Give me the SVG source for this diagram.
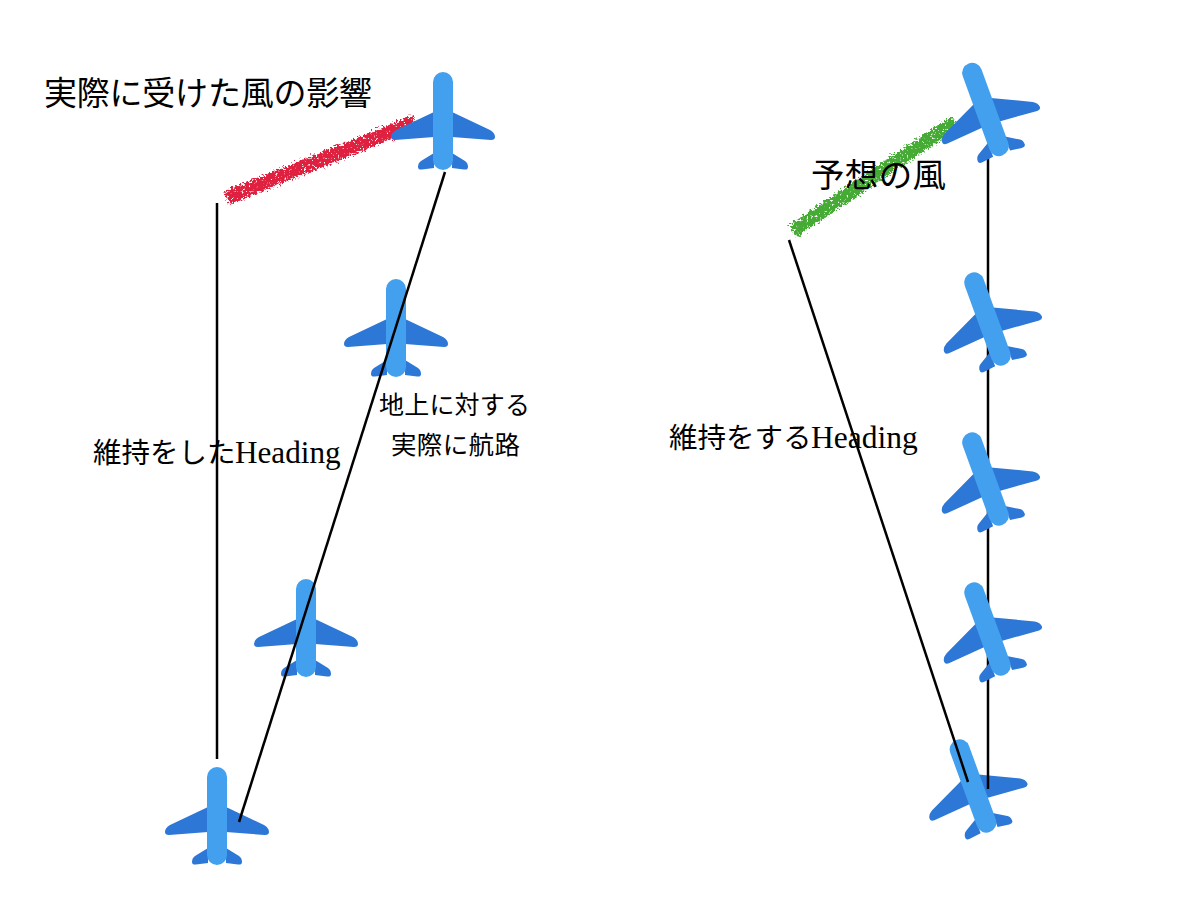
<svg xmlns="http://www.w3.org/2000/svg" xmlns:xlink="http://www.w3.org/1999/xlink" width="1200" height="900" viewBox="0 0 1200 900">
<style>
text{font-family:"Liberation Serif","Noto Sans CJK JP",serif;fill:#000}
.conn{stroke:#000;stroke-width:2.5;fill:none}
.wing{fill:#2d77d6}
.body{fill:#42a0ef}
.crayon{fill:none;stroke-width:14;stroke-linecap:butt;filter:url(#rough)}
</style>
<defs>
<filter id="rough" x="-10%" y="-30%" width="120%" height="160%" color-interpolation-filters="sRGB">
<feTurbulence type="fractalNoise" baseFrequency="0.45" numOctaves="2" seed="4" result="n"/>
<feColorMatrix in="n" type="matrix" values="0 0 0 0 0 0 0 0 0 0 0 0 0 0 0 8 0 0 0 -2" result="holes"/>
<feDisplacementMap in="SourceGraphic" in2="n" scale="10" xChannelSelector="R" yChannelSelector="G" result="d"/>
<feComposite in="d" in2="holes" operator="in"/>
</filter>
<g id="plane">
<path class="wing" d="M-9-9L-47 9Q-52 12-52 16Q-52 19-48 19L-9 16ZM9-9L47 9Q52 12 52 16Q52 19 48 19L9 16ZM-9 32L-22 40Q-25 42-25 46Q-25 49-21 48.500L-9 47ZM9 32L22 40Q25 42 25 46Q25 49 21 48.500L9 47Z"/>
<rect class="body" x="-10" y="-49" width="20" height="98" rx="10"/>
</g>
</defs>
<rect width="1200" height="900" fill="#fff"/>
<g id="wind-strokes">
<path class="crayon" stroke="#e0203f" d="M227 198L415 122"/>
<path class="crayon" stroke="#45ab35" d="M793 231L955 122"/>
</g>
<g id="plane-1"><use xlink:href="#plane" href="#plane" x="443" y="121"/></g>
<g id="plane-2"><use xlink:href="#plane" href="#plane" x="396" y="328"/></g>
<g id="plane-3"><use xlink:href="#plane" href="#plane" x="306" y="628"/></g>
<g id="plane-4"><use xlink:href="#plane" href="#plane" x="217" y="816"/></g>
<g id="plane-9"><use xlink:href="#plane" href="#plane" transform="translate(973 786) rotate(-20)"/></g>
<g id="connectors">
<path class="conn" d="M217 203V759"/>
<path class="conn" d="M445 172L239 822"/>
<path class="conn" d="M988 157V789"/>
<path class="conn" d="M789 240L968 782"/>
</g>
<g id="plane-5"><use xlink:href="#plane" href="#plane" transform="translate(985.5 109.5) rotate(-20)"/></g>
<g id="plane-6"><use xlink:href="#plane" href="#plane" transform="translate(987.5 319) rotate(-20)"/></g>
<g id="plane-7"><use xlink:href="#plane" href="#plane" transform="translate(985.5 479) rotate(-20)"/></g>
<g id="plane-8"><use xlink:href="#plane" href="#plane" transform="translate(987.5 629) rotate(-20)"/></g>
<g id="labels">
<text x="44" y="105" font-size="33" textLength="328">実際に受けた風の影響</text>
<text x="811" y="187" font-size="33.5" textLength="135">予想の風</text>
<text x="93" y="463" font-size="28.5">維持をした<tspan x="235" font-size="31.2">Heading</tspan></text>
<text x="669" y="448" font-size="28.5">維持をする<tspan x="811" font-size="31.5">Heading</tspan></text>
<text x="379" y="414" font-size="25" textLength="151">地上に対する</text>
<text x="391" y="454" font-size="25.500" textLength="129">実際に航路</text>
</g>
</svg>
